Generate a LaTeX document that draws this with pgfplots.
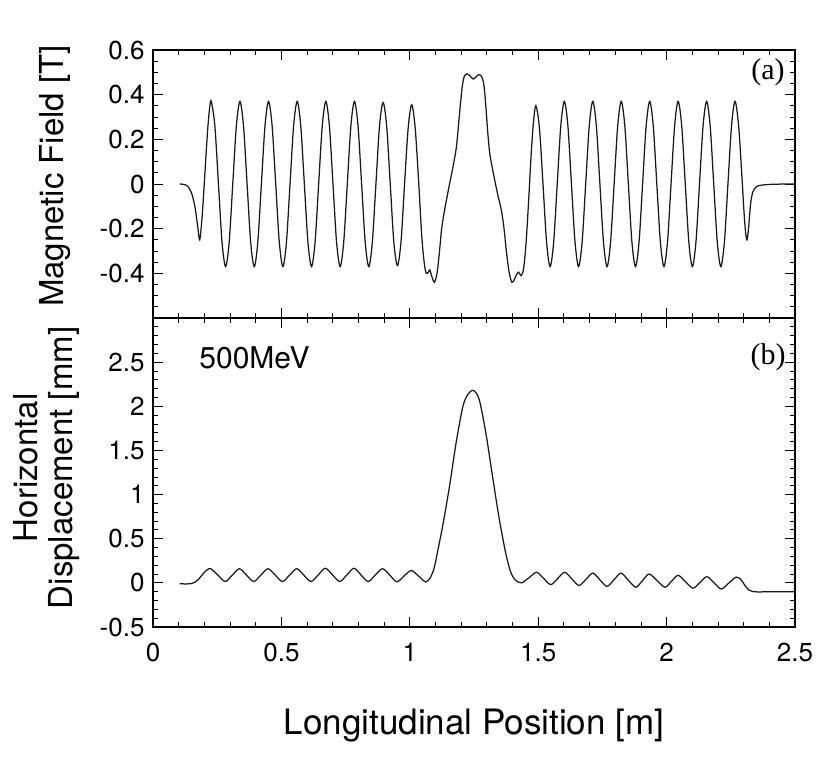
\documentclass[border=0pt]{standalone}
\usepackage{fontspec}
\setmainfont{TeX Gyre Heros}
\newfontfamily\tms{Liberation Serif}
\usepackage{pgfplots}
\pgfplotsset{compat=1.18}

\pgfplotsset{common/.style={
  scale only axis, width=642pt, xmin=0, xmax=2.5,
  xtick={0,0.5,1,1.5,2,2.5}, minor x tick num=4,
  major tick length=10pt, minor tick length=5pt,
  every tick/.style={black, line width=0.8pt},
  axis line style={line width=1.3pt},
  tick label style={font=\fontsize{26}{28}\selectfont},
  yticklabel style={xshift=-5pt},
}}

\begin{document}
\begin{tikzpicture}
\useasboundingbox (-153pt,-131pt) rectangle (670pt,627pt);

% ---------- (a) magnetic field ----------
\begin{axis}[common, at={(0pt,309pt)}, anchor=south west, height=268pt,
  ymin=-0.6, ymax=0.6,
  xticklabels={},
  ytick={-0.6,-0.4,-0.2,0,0.2,0.4,0.6},
  yticklabels={{},-0.4,-0.2,0,0.2,0.4,0.6},
  minor y tick num=3,
  ylabel={Magnetic Field [T]},
  ylabel style={font=\fontsize{33}{36}\selectfont, at={(axis description cs:-0.153,0.53)}, anchor=center},
]
\addplot[black!90, line width=1.25pt, smooth] coordinates {
(0.104,0.000)(0.120,-0.002)(0.135,-0.010)(0.150,-0.040)(0.163,-0.100)(0.174,-0.190)(0.182,-0.250)
(0.191,-0.150)(0.199,-0.010)(0.207,0.140)(0.214,0.260)(0.221,0.345)(0.227,0.370)
(0.2409,0.26)(0.2549,0)(0.2688,-0.26)(0.2828,-0.37)(0.2967,-0.26)(0.3106,0)(0.3246,0.26)
(0.3385,0.37)(0.3524,0.26)(0.3664,0)(0.3803,-0.26)(0.3943,-0.37)(0.4082,-0.26)(0.4221,0)(0.4361,0.26)
(0.4500,0.37)(0.4639,0.26)(0.4779,0)(0.4918,-0.26)(0.5058,-0.37)(0.5197,-0.26)(0.5336,0)(0.5476,0.26)
(0.5615,0.37)(0.5754,0.26)(0.5894,0)(0.6033,-0.26)(0.6173,-0.37)(0.6312,-0.26)(0.6451,0)(0.6591,0.26)
(0.6730,0.37)(0.6869,0.26)(0.7009,0)(0.7148,-0.26)(0.7288,-0.37)(0.7427,-0.26)(0.7566,0)(0.7706,0.26)
(0.7845,0.37)(0.7984,0.26)(0.8124,0)(0.8263,-0.26)(0.8403,-0.37)(0.8542,-0.26)(0.8681,0)(0.8821,0.26)
(0.8960,0.365)(0.9099,0.26)(0.9239,0)(0.9378,-0.26)(0.9518,-0.365)(0.9657,-0.26)(0.9796,0)(0.9936,0.25)
(1.0075,0.355)(1.021,0.25)(1.034,0.02)(1.047,-0.24)(1.057,-0.36)(1.064,-0.40)(1.072,-0.395)(1.078,-0.385)
(1.086,-0.415)(1.096,-0.440)(1.106,-0.400)(1.115,-0.310)(1.124,-0.200)(1.135,-0.120)(1.148,-0.040)
(1.160,0.030)(1.172,0.100)(1.182,0.170)(1.191,0.280)(1.199,0.380)(1.206,0.450)(1.213,0.485)
(1.222,0.493)(1.234,0.485)(1.247,0.470)(1.260,0.482)(1.271,0.490)(1.281,0.478)(1.289,0.440)
(1.296,0.350)(1.303,0.240)(1.311,0.140)(1.320,0.080)(1.332,0.010)(1.345,-0.060)(1.357,-0.120)
(1.367,-0.200)(1.376,-0.300)(1.386,-0.390)(1.397,-0.440)(1.406,-0.430)(1.416,-0.405)(1.424,-0.395)
(1.433,-0.410)(1.443,-0.380)(1.453,-0.260)(1.463,-0.070)(1.472,0.120)(1.481,0.270)(1.491,0.350)
(1.5049,0.25)(1.5187,0)(1.5326,-0.26)(1.5464,-0.37)(1.5603,-0.26)(1.5741,0)(1.5880,0.26)
(1.6018,0.37)(1.6157,0.26)(1.6295,0)(1.6434,-0.26)(1.6572,-0.37)(1.6711,-0.26)(1.6849,0)(1.6988,0.26)
(1.7126,0.37)(1.7265,0.26)(1.7403,0)(1.7542,-0.26)(1.7680,-0.37)(1.7819,-0.26)(1.7957,0)(1.8096,0.26)
(1.8234,0.37)(1.8373,0.26)(1.8511,0)(1.8650,-0.26)(1.8788,-0.37)(1.8927,-0.26)(1.9065,0)(1.9204,0.26)
(1.9342,0.37)(1.9481,0.26)(1.9619,0)(1.9758,-0.26)(1.9896,-0.37)(2.0035,-0.26)(2.0173,0)(2.0312,0.26)
(2.0450,0.37)(2.0589,0.26)(2.0727,0)(2.0866,-0.26)(2.1004,-0.37)(2.1143,-0.26)(2.1281,0)(2.1420,0.26)
(2.1558,0.37)(2.1697,0.26)(2.1835,0)(2.1974,-0.26)(2.2112,-0.37)(2.2251,-0.26)(2.2389,0)(2.2528,0.26)
(2.2666,0.37)(2.2805,0.26)(2.2935,0.03)(2.300,-0.10)(2.307,-0.21)(2.313,-0.25)(2.319,-0.20)
(2.327,-0.09)(2.336,-0.035)(2.350,-0.012)(2.370,-0.005)(2.420,-0.001)(2.500,0.000)
};
\node[font=\tms\fontsize{30}{32}\selectfont] at (axis cs:2.395,0.50) {(a)};
\end{axis}

% ---------- (b) horizontal displacement ----------
\begin{axis}[common, at={(0pt,0pt)}, anchor=south west, height=309pt,
  ymin=-0.5, ymax=3,
  xticklabels={0,0.5,1,1.5,2,2.5},
  xticklabel style={yshift=-13pt},
  ytick={-0.5,0,0.5,1,1.5,2,2.5,3},
  yticklabels={-0.5,0,0.5,1,1.5,2,2.5,{}},
  minor y tick num=4,
  ylabel={Horizontal\\Displacement [mm]},
  ylabel style={font=\fontsize{33}{35}\selectfont, align=center, at={(axis description cs:-0.166,0.515)}, anchor=center},
  xlabel={Longitudinal Position [m]},
  xlabel style={font=\fontsize{35}{38}\selectfont, at={(axis description cs:0.5,-0.32)}, anchor=center},
]
\addplot[black!90, line width=1.25pt, smooth] coordinates {
(0.104,-0.010)(0.130,-0.012)(0.150,-0.008)(0.165,0.010)(0.180,0.050)(0.197,0.110)(0.212,0.150)
(0.225,0.160)(0.253,0.088)(0.281,0.015)(0.309,0.088)(0.3365,0.160)(0.364,0.088)(0.392,0.015)
(0.420,0.088)(0.448,0.160)(0.476,0.088)(0.504,0.015)(0.532,0.088)(0.5595,0.160)(0.587,0.088)
(0.615,0.015)(0.643,0.088)(0.671,0.165)(0.699,0.090)(0.727,0.015)(0.755,0.090)(0.7825,0.165)
(0.810,0.090)(0.838,0.015)(0.866,0.090)(0.894,0.160)(0.922,0.088)(0.950,0.012)(0.978,0.080)
(1.0055,0.140)(1.033,0.080)(1.062,0.010)(1.080,0.060)(1.095,0.170)(1.110,0.380)(1.129,0.660)
(1.155,1.100)(1.180,1.580)(1.206,1.990)(1.225,2.130)(1.247,2.180)(1.270,2.080)(1.296,1.700)
(1.322,1.210)(1.348,0.730)(1.374,0.330)(1.392,0.130)(1.408,0.040)(1.425,0.005)(1.437,0.000)
(1.465,0.060)(1.494,0.120)(1.521,0.050)(1.549,-0.020)(1.576,0.050)(1.603,0.120)(1.631,0.045)
(1.659,-0.030)(1.686,0.040)(1.713,0.110)(1.740,0.035)(1.768,-0.040)(1.795,0.035)(1.823,0.110)
(1.851,0.030)(1.880,-0.050)(1.906,0.025)(1.932,0.100)(1.963,0.025)(1.994,-0.050)(2.019,0.018)
(2.045,0.085)(2.074,0.012)(2.103,-0.060)(2.130,0.005)(2.157,0.070)(2.185,0.000)(2.213,-0.070)
(2.242,-0.003)(2.271,0.065)(2.290,0.035)(2.305,-0.030)(2.320,-0.080)(2.335,-0.098)(2.360,-0.103)
(2.400,-0.100)(2.500,-0.100)
};
\node[font=\tms\fontsize{30}{32}\selectfont] at (axis cs:2.395,2.55) {(b)};
\node[font=\fontsize{30}{33}\selectfont, anchor=west, inner sep=0pt] at (axis cs:0.18,2.55) {500MeV};
\end{axis}
\end{tikzpicture}
\end{document}
